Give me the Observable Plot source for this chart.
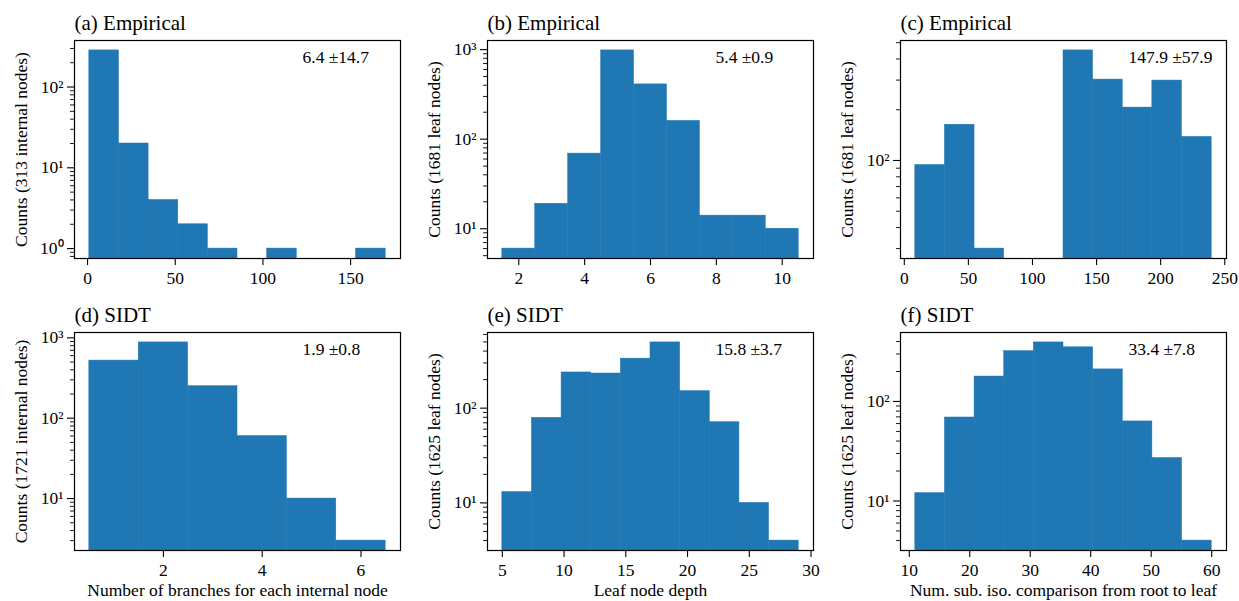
<!DOCTYPE html>
<html><head><meta charset="utf-8">
<script src="https://cdn.jsdelivr.net/npm/d3@7"></script>
<script src="https://cdn.jsdelivr.net/npm/@observablehq/plot@0.6"></script>
<style>
body{margin:0;background:#fff;}
#fig{position:relative;width:1239px;height:601px;overflow:hidden;background:#fff;}
#fig > div{position:absolute;}
#fig svg{max-width:none;display:block;}
</style></head><body><div id="fig"></div>
<script>
// ---- data ----
const titles = ["(a) Empirical", "(b) Empirical", "(c) Empirical", "(d) SIDT", "(e) SIDT", "(f) SIDT"];
const yLabels = ["Counts (313 internal nodes)", "Counts (1681 leaf nodes)", "Counts (1681 leaf nodes)",
                 "Counts (1721 internal nodes)", "Counts (1625 leaf nodes)", "Counts (1625 leaf nodes)"];
const xLabels = ["", "", "", "Number of branches for each internal node", "Leaf node depth",
                 "Num. sub. iso. comparison from root to leaf"];
const stats = ["6.4 \u00b114.7", "5.4 \u00b10.9", "147.9 \u00b157.9", "1.9 \u00b10.8", "15.8 \u00b13.7", "33.4 \u00b17.8"];

const edgesA = [1, 17.9, 34.8, 51.7, 68.6, 85.5, 102.4, 119.3, 136.2, 153.1, 170];
const countsA = [284, 20, 4, 2, 1, 0, 1, 0, 0, 1];
const edgesB = [1.5, 2.5, 3.5, 4.5, 5.5, 6.5, 7.5, 8.5, 9.5, 10.5];
const countsB = [6, 19, 69, 980, 409, 160, 14, 14, 10];
const edgesC = [8.6, 31.7, 54.8, 77.9, 101, 124.2, 147.3, 170.4, 193.5, 216.6, 239.8];
const countsC = [94, 163, 30, 0, 0, 450, 302, 206, 298, 138];
const edgesD = [0.5, 1.5, 2.5, 3.5, 4.5, 5.5, 6.5];
const countsD = [521, 877, 250, 60, 10, 3];
const edgesE = [5, 7.4, 9.8, 12.2, 14.6, 17, 19.4, 21.8, 24.2, 26.6, 29];
const countsE = [13, 79, 238, 232, 333, 494, 151, 71, 10, 4];
const edgesF = [11, 15.9, 20.8, 25.7, 30.6, 35.5, 40.4, 45.3, 50.2, 55.1, 60];
const countsF = [12, 69, 178, 320, 392, 350, 210, 63, 27, 4];

const xTicksA = [0, 50, 100, 150];
const xTicksB = [2, 4, 6, 8, 10];
const xTicksC = [0, 50, 100, 150, 200, 250];
const xTicksD = [2, 4, 6];
const xTicksE = [5, 10, 15, 20, 25, 30];
const xTicksF = [10, 20, 30, 40, 50, 60];
const yMajorTicks = [1, 10, 100, 1000];

const panels = [
  {edges: edgesA, counts: countsA, xticks: xTicksA},
  {edges: edgesB, counts: countsB, xticks: xTicksB},
  {edges: edgesC, counts: countsC, xticks: xTicksC},
  {edges: edgesD, counts: countsD, xticks: xTicksD},
  {edges: edgesE, counts: countsE, xticks: xTicksE},
  {edges: edgesF, counts: countsF, xticks: xTicksF}
];

// ---- layout ----
const FONT = "'Liberation Serif', serif";
const colLeft = [74, 487, 900];
const rowTop = [40, 332];
const FW = 326, FH = 218, ML = 74, MR = 10, MT = 40;
const BLUE = "#1f77b4";
const supDigits = {"0": "\u2070", "1": "\u00b9", "2": "\u00b2", "3": "\u00b3"};
const fmtPow = v => "10" + supDigits[String(Math.round(Math.log10(v)))];

const fig = document.getElementById("fig");

panels.forEach((p, i) => {
  const col = i % 3, row = Math.floor(i / 3);
  const bars = p.counts.map((c, j) => ({x1: p.edges[j], x2: p.edges[j + 1], count: c})).filter(d => d.count > 0);
  const pos = p.counts.filter(c => c > 0);
  const lmin = Math.log10(d3.min(pos)), lmax = Math.log10(d3.max(pos));
  const m = 0.05 * (lmax - lmin);
  const yDomain = [10 ** (lmin - m), 10 ** (lmax + m)];
  const e0 = p.edges[0], e1 = p.edges[p.edges.length - 1], xm = 0.05 * (e1 - e0);
  const xDomain = [e0 - xm, e1 + xm];
  const majors = yMajorTicks.filter(v => v >= yDomain[0] && v <= yDomain[1]);
  const minors = [];
  for (let k = Math.floor(Math.log10(yDomain[0])); k <= Math.ceil(Math.log10(yDomain[1])); k++) {
    for (let s = 2; s <= 9; s++) {
      const v = s * 10 ** k;
      if (v >= yDomain[0] && v <= yDomain[1]) minors.push(v);
    }
  }
  const MB = row === 1 ? 58 : 34;
  const plot = Plot.plot({
    width: ML + FW + MR, height: MT + FH + MB,
    marginLeft: ML, marginRight: MR, marginTop: MT, marginBottom: MB,
    style: {fontFamily: FONT, fontSize: "17.5px", background: "transparent", color: "#000", overflow: "visible"},
    x: {domain: xDomain},
    y: {type: "log", domain: yDomain},
    marks: [
      Plot.rect(bars, {x1: "x1", x2: "x2", y1: () => yDomain[0] / 10, y2: "count", fill: BLUE,
                       stroke: BLUE, strokeWidth: 0.5, clip: true}),
      Plot.axisX({ticks: p.xticks, tickSize: 7, tickPadding: 6, tickFormat: d => String(d), label: null,
                  fontSize: 17.5, stroke: "#000", strokeWidth: 1.1}),
      Plot.axisY({ticks: majors, tickSize: 7, tickPadding: 4, tickFormat: fmtPow, label: null,
                  fontSize: 17.5, stroke: "#000", strokeWidth: 1.1}),
      Plot.axisY({ticks: minors, tickSize: 4, tickFormat: () => "", label: null, stroke: "#000", strokeWidth: 0.9}),
      Plot.frame({stroke: "#000", strokeWidth: 1.2}),
      Plot.text([titles[i]], {text: d => d, frameAnchor: "top-left", dy: -11, lineAnchor: "bottom",
                 textAnchor: "start", fontSize: 21, fill: "#000"}),
      Plot.text([stats[i]], {text: d => d, frameAnchor: "top-left", dx: 228, dy: 22, lineAnchor: "bottom",
                 textAnchor: "start", fontSize: 17.5, fill: "#000"}),
      Plot.text([yLabels[i]], {text: d => d, frameAnchor: "left", dx: -53, rotate: -90, textAnchor: "middle",
                 lineAnchor: "middle", fontSize: 17.5, fill: "#000"}),
      ...(xLabels[i] ? [Plot.text([xLabels[i]], {text: d => d, frameAnchor: "bottom", dy: 45, lineAnchor: "bottom",
                 textAnchor: "middle", fontSize: 17.5, fill: "#000"})] : [])
    ]
  });
  d3.select(plot).selectAll("g, text").style("font-family", FONT).style("font-variant", "normal");
  const wrap = document.createElement("div");
  wrap.style.left = (colLeft[col] - ML) + "px";
  wrap.style.top = (rowTop[row] - MT) + "px";
  wrap.appendChild(plot);
  fig.appendChild(wrap);
});
</script>
</body></html>
